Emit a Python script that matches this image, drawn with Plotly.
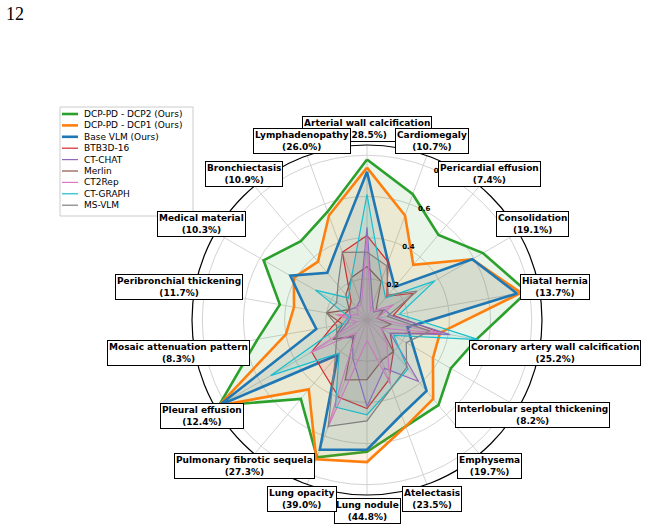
import math
import plotly.graph_objects as go

# ---------------- data ----------------
categories = ["Arterial wall calcification", "Cardiomegaly", "Pericardial effusion",
              "Consolidation", "Hiatal hernia", "Coronary artery wall calcification",
              "Interlobular septal thickening", "Emphysema", "Atelectasis", "Lung nodule",
              "Lung opacity", "Pulmonary fibrotic sequela", "Pleural effusion",
              "Mosaic attenuation pattern", "Peribronchial thickening", "Medical material",
              "Bronchiectasis", "Lymphadenopathy"]
prevalence = [28.5, 10.7, 7.4, 19.1, 13.7, 25.2, 8.2, 19.7, 23.5, 44.8, 39.0, 27.3,
              12.4, 8.3, 11.7, 10.3, 10.9, 26.0]

series_names = ["DCP-PD - DCP2 (Ours)", "DCP-PD - DCP1 (Ours)", "Base VLM (Ours)",
                "BTB3D-16", "CT-CHAT", "Merlin", "CT2Rep", "CT-GRAPH", "MS-VLM"]

dcp2 = [0.78, 0.65, 0.54, 0.65, 0.79, 0.54, 0.47, 0.54, 0.55, 0.64, 0.71, 0.50, 0.83, 0.54, 0.43, 0.58, 0.50, 0.56]
dcp1 = [0.74, 0.54, 0.35, 0.59, 0.76, 0.36, 0.37, 0.50, 0.55, 0.69, 0.72, 0.44, 0.83, 0.40, 0.36, 0.41, 0.37, 0.54]
base_vlm = [0.72, 0.30, 0.21, 0.59, 0.74, 0.20, 0.26, 0.45, 0.49, 0.63, 0.67, 0.22, 0.83, 0.25, 0.30, 0.43, 0.30, 0.40]
btb3d = [0.41, 0.30, 0.15, 0.26, 0.13, 0.37, 0.13, 0.20, 0.31, 0.43, 0.40, 0.33, 0.31, 0.17, 0.12, 0.10, 0.12, 0.35]
ct_chat = [0.45, 0.08, 0.05, 0.10, 0.12, 0.41, 0.13, 0.39, 0.25, 0.42, 0.20, 0.11, 0.18, 0.10, 0.08, 0.10, 0.08, 0.10]
merlin = [0.26, 0.20, 0.07, 0.09, 0.05, 0.12, 0.08, 0.20, 0.21, 0.29, 0.31, 0.10, 0.19, 0.12, 0.20, 0.10, 0.16, 0.22]
ct2rep = [0.40, 0.05, 0.06, 0.15, 0.05, 0.37, 0.08, 0.15, 0.33, 0.10, 0.56, 0.08, 0.32, 0.05, 0.15, 0.05, 0.08, 0.08]
ct_graph = [0.61, 0.21, 0.14, 0.38, 0.16, 0.55, 0.15, 0.31, 0.35, 0.46, 0.45, 0.21, 0.54, 0.12, 0.09, 0.29, 0.14, 0.22]
ms_vlm = [0.33, 0.28, 0.16, 0.28, 0.10, 0.31, 0.22, 0.30, 0.35, 0.49, 0.55, 0.24, 0.17, 0.15, 0.20, 0.17, 0.22, 0.35]

series_values = [dcp2, dcp1, base_vlm, btb3d, ct_chat, merlin, ct2rep, ct_graph, ms_vlm]
colors = ["#2ca02c", "#ff7f0e", "#1f77b4", "#d62728", "#9467bd", "#8c564b",
          "#e377c2", "#17becf", "#7f7f7f"]
widths = [2.6, 2.6, 2.6, 1.2, 1.2, 1.2, 1.2, 1.2, 1.2]
radial_ticks = [0.2, 0.4, 0.6, 0.8]
r_max = 0.85

# ---------------- layout geometry ----------------
W, H = 651, 529
CX, CY, R = 367, 320, 175
RLABEL_ANGLE = 67.5


def hex_rgba(h, a):
    h = h.lstrip("#")
    return "rgba(%d,%d,%d,%.2f)" % (int(h[0:2], 16), int(h[2:4], 16), int(h[4:6], 16), a)


fig = go.Figure()
for name, vals, col, lw in zip(series_names, series_values, colors, widths):
    fig.add_trace(go.Scatterpolar(
        r=vals + vals[:1], theta=categories + categories[:1], mode="lines",
        name=name, line=dict(color=col, width=lw), fill="toself",
        fillcolor=hex_rgba(col, 0.10), showlegend=False))

annotations = []
shapes = []
# category labels in boxes
n = len(categories)
for i, (c, p) in enumerate(zip(categories, prevalence)):
    th = math.radians(360.0 * i / n)
    x = CX + 191 * math.sin(th)
    y = CY - 191 * math.cos(th)
    annotations.append(dict(
        x=x / W, y=1 - y / H, xref="paper", yref="paper",
        text="<b>%s</b><br><b>(%.1f%%)</b>" % (c, p), showarrow=False,
        xanchor="center", yanchor="middle", align="center",
        font=dict(family="DejaVu Sans", size=9, color="black"),
        bgcolor="white", bordercolor="black", borderwidth=1, borderpad=1))

# page number
annotations.append(dict(x=4 / W, y=1 - 2 / H, xref="paper", yref="paper", text="12",
                        showarrow=False, xanchor="left", yanchor="top",
                        font=dict(family="Liberation Serif", size=18, color="black")))

# manual legend
LX0, LY0, LX1, LY1 = 60, 107, 193, 216
shapes.append(dict(type="rect", xref="paper", yref="paper", x0=LX0 / W, x1=LX1 / W,
                   y0=1 - LY0 / H, y1=1 - LY1 / H, line=dict(color="#cccccc", width=1),
                   fillcolor="white", layer="above"))
for k, (name, col, lw) in enumerate(zip(series_names, colors, widths)):
    yy = 114 + 11.4 * k
    shapes.append(dict(type="line", xref="paper", yref="paper", x0=62 / W, x1=78 / W,
                       y0=1 - yy / H, y1=1 - yy / H, line=dict(color=col, width=lw),
                       layer="above"))
    annotations.append(dict(x=82 / W, y=1 - yy / H, xref="paper", yref="paper", text=name,
                            showarrow=False, xanchor="left", yanchor="middle",
                            font=dict(family="DejaVu Sans", size=9, color="black")))

fig.update_layout(
    width=W, height=H, margin=dict(l=0, r=0, t=0, b=0),
    paper_bgcolor="white", plot_bgcolor="white", showlegend=False,
    polar=dict(
        domain=dict(x=[(CX - R) / W, (CX + R) / W], y=[(H - CY - R) / H, (H - CY + R) / H]),
        bgcolor="white",
        angularaxis=dict(rotation=90, direction="clockwise", showticklabels=False,
                         ticks="", showline=True, linecolor="black", linewidth=1.2,
                         gridcolor="#d3d3d3", gridwidth=0.8, categoryorder="array",
                         categoryarray=categories),
        radialaxis=dict(range=[0, r_max], tickvals=radial_ticks,
                        ticktext=[str(t) for t in radial_ticks], angle=RLABEL_ANGLE,
                        tickangle=RLABEL_ANGLE,
                        showline=False, ticks="", gridcolor="#d3d3d3", gridwidth=0.8,
                        tickfont=dict(family="DejaVu Sans", size=7, color="black",
                                      weight="bold"))),
    annotations=annotations, shapes=shapes)

fig.write_html("out.html")
